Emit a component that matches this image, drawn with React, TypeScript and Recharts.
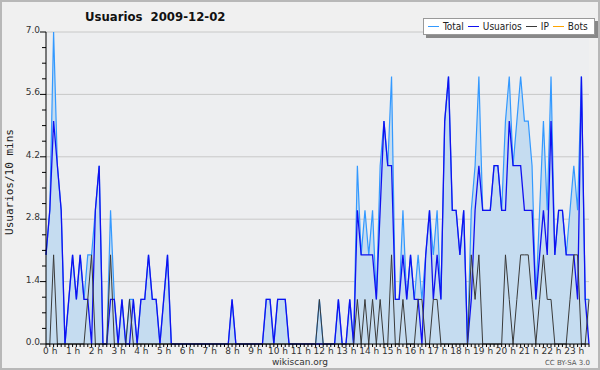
import React from "react";
import {
  ComposedChart,
  Area,
  Line,
  XAxis,
  YAxis,
  CartesianGrid,
} from "recharts";

// one value every 10 minutes, 2009-12-02 00:00 .. 23:50
const usuarios = [
  2, 3, 5, 4, 3, 0, 1, 2, 1, 2, 1, 1,
  0, 3, 4, 0, 0, 1, 1, 0, 1, 0, 0, 1,
  0, 1, 1, 2, 1, 1, 0, 1, 2, 0, 0, 0,
  0, 0, 0, 0, 0, 0, 0, 0, 0, 0, 0, 0,
  0, 1, 0, 0, 0, 0, 0, 0, 0, 0, 1, 1,
  0, 1, 1, 1, 0, 0, 0, 0, 0, 0, 0, 0,
  0, 0, 0, 0, 0, 1, 0, 0, 1, 0, 3, 2,
  2, 2, 2, 1, 3, 5, 4, 4, 1, 1, 2, 1,
  2, 1, 1, 0, 2, 3, 1, 2, 1, 5, 6, 3,
  3, 2, 3, 0, 1, 3, 4, 3, 3, 3, 4, 4,
  3, 3, 5, 4, 4, 4, 3, 3, 3, 1, 2, 3,
  2, 5, 2, 3, 3, 2, 2, 2, 1, 6, 1, 0,
];

const ip = [
  0, 0, 2, 0, 0, 0, 0, 0, 0, 0, 0, 1,
  2, 0, 0, 0, 0, 2, 0, 0, 0, 0, 1, 0,
  0, 0, 0, 0, 0, 0, 0, 0, 0, 0, 0, 0,
  0, 0, 0, 0, 0, 0, 0, 0, 0, 0, 0, 0,
  0, 0, 0, 0, 0, 0, 0, 0, 0, 0, 0, 0,
  0, 0, 0, 0, 0, 0, 0, 0, 0, 0, 0, 0,
  1, 0, 0, 0, 0, 0, 0, 0, 0, 0, 1, 0,
  1, 0, 1, 0, 1, 0, 0, 2, 0, 0, 1, 0,
  0, 0, 1, 1, 0, 0, 1, 1, 0, 0, 0, 0,
  0, 0, 0, 0, 2, 1, 2, 0, 0, 0, 0, 0,
  0, 2, 1, 0, 1, 2, 2, 2, 1, 0, 1, 2,
  1, 1, 0, 0, 0, 0, 1, 2, 2, 0, 0, 1,
];

const total = [
  2, 3, 7, 4, 3, 0, 1, 2, 1, 2, 1, 2,
  2, 3, 4, 0, 0, 3, 1, 0, 1, 0, 1, 1,
  0, 1, 1, 2, 1, 1, 0, 1, 2, 0, 0, 0,
  0, 0, 0, 0, 0, 0, 0, 0, 0, 0, 0, 0,
  0, 1, 0, 0, 0, 0, 0, 0, 0, 0, 1, 1,
  0, 1, 1, 1, 0, 0, 0, 0, 0, 0, 0, 0,
  1, 0, 0, 0, 0, 1, 0, 0, 1, 0, 4, 2,
  3, 2, 3, 1, 4, 5, 4, 6, 1, 1, 3, 1,
  2, 1, 2, 1, 2, 3, 2, 3, 1, 5, 6, 3,
  3, 2, 3, 0, 3, 4, 6, 3, 3, 3, 4, 4,
  3, 5, 6, 4, 5, 6, 5, 5, 4, 1, 3, 5,
  3, 6, 2, 3, 3, 2, 3, 4, 3, 6, 1, 1,
];

const bots = [
  0, 0, 0, 0, 0, 0, 0, 0, 0, 0, 0, 0,
  0, 0, 0, 0, 0, 0, 0, 0, 0, 0, 0, 0,
  0, 0, 0, 0, 0, 0, 0, 0, 0, 0, 0, 0,
  0, 0, 0, 0, 0, 0, 0, 0, 0, 0, 0, 0,
  0, 0, 0, 0, 0, 0, 0, 0, 0, 0, 0, 0,
  0, 0, 0, 0, 0, 0, 0, 0, 0, 0, 0, 0,
  0, 0, 0, 0, 0, 0, 0, 0, 0, 0, 0, 0,
  0, 0, 0, 0, 0, 0, 0, 0, 0, 0, 0, 0,
  0, 0, 0, 0, 0, 0, 0, 0, 0, 0, 0, 0,
  0, 0, 0, 0, 0, 0, 0, 0, 0, 0, 0, 0,
  0, 0, 0, 0, 0, 0, 0, 0, 0, 0, 0, 0,
  0, 0, 0, 0, 0, 0, 0, 0, 0, 0, 0, 0,
];

const hourLabels = [
  "0 h", "1 h", "2 h", "3 h", "4 h", "5 h", "6 h", "7 h",
  "8 h", "9 h", "10 h", "11 h", "12 h", "13 h", "14 h", "15 h",
  "16 h", "17 h", "18 h", "19 h", "20 h", "21 h", "22 h", "23 h",
];

const yLabels = [0, 1.4, 2.8, 4.2, 5.6, 7.0];

const legendItems = [
  { name: "Total", color: "#3399ff" },
  { name: "Usuarios", color: "#1010f0" },
  { name: "IP", color: "#3a3a3a" },
  { name: "Bots", color: "#ffa500" },
];

const data = total.map((t, i) => ({
  slot: i,
  total: t,
  usuarios: usuarios[i],
  ip: ip[i],
  bots: bots[i],
}));

// a small tick every 10 minutes, a label every hour
const xTicks = data.map((d) => d.slot);
// minor ticks every 0.35 on the value axis
const yTicks: number[] = [];
for (let k = 0; k <= 20; k++) yTicks.push(Math.round(k * 35) / 100);

const FONT = "'DejaVu Sans', sans-serif";
const COND = "'DejaVu Sans Condensed', 'DejaVu Sans', sans-serif";

const XTick = (props: any) => {
  const { x, y, payload } = props;
  const i = payload.value;
  const label = i % 6 === 0 ? hourLabels[i / 6] : null;
  const digits = label ? label.length - 2 : 0;
  return (
    <g>
      <line x1={x} x2={x} y1={y} y2={y + 3} stroke="#000" />
      {label && (
        <text
          x={x - digits * 2.9}
          y={y + 10}
          fontSize={9}
          fontFamily={FONT}
          fill="#333"
          style={{ whiteSpace: "pre" }}
        >
          {label}
        </text>
      )}
    </g>
  );
};

const YTick = (props: any) => {
  const { x, y, payload } = props;
  const v = payload.value;
  const major = yLabels.some((t) => Math.abs(t - v) < 1e-6);
  return (
    <g>
      <line x1={x - (major ? 6 : 4)} x2={x} y1={y} y2={y} stroke="#000" />
      {major && (
        <text
          x={x - 6}
          y={y + 1}
          textAnchor="end"
          fontSize={9}
          fontFamily={FONT}
          fill="#333"
        >
          {v.toFixed(1)}
        </text>
      )}
    </g>
  );
};

export default function App() {
  return (
    <div
      style={{
        position: "fixed",
        left: 0,
        top: 0,
        width: 600,
        height: 370,
        background: "#f0f0f0",
        overflow: "hidden",
      }}
    >
      <ComposedChart
        width={600}
        height={370}
        data={data}
        margin={{ top: 32, right: 11, bottom: 0, left: 0 }}
      >
        <CartesianGrid
          vertical={false}
          horizontalValues={yLabels}
          stroke="#c8c8c8"
          fill="#edeef0"
        />
        <XAxis
          dataKey="slot"
          type="number"
          domain={[0, 143]}
          ticks={xTicks}
          interval={0}
          height={26}
          tickSize={0}
          tickMargin={0}
          tickLine={false}
          tick={<XTick />}
          axisLine={{ stroke: "#000" }}
        />
        <YAxis
          type="number"
          domain={[0, 7]}
          ticks={yTicks}
          interval={0}
          width={46}
          tickSize={0}
          tickMargin={0}
          tickLine={false}
          tick={<YTick />}
          axisLine={{ stroke: "#000" }}
        />
        <Area
          type="linear"
          dataKey="total"
          name="Total"
          stroke={legendItems[0].color}
          strokeWidth={1.2}
          fill="#c5dcf0"
          fillOpacity={1}
          dot={false}
          activeDot={false}
          isAnimationActive={false}
        />
        <Line
          type="linear"
          dataKey="usuarios"
          name="Usuarios"
          stroke={legendItems[1].color}
          strokeWidth={1.3}
          dot={false}
          activeDot={false}
          isAnimationActive={false}
        />
        <Line
          type="linear"
          dataKey="ip"
          name="IP"
          stroke={legendItems[2].color}
          strokeWidth={1}
          dot={false}
          activeDot={false}
          isAnimationActive={false}
        />
        <Line
          type="linear"
          dataKey="bots"
          name="Bots"
          stroke={legendItems[3].color}
          strokeWidth={1}
          strokeOpacity={0}
          dot={false}
          activeDot={false}
          isAnimationActive={false}
        />
      </ComposedChart>
      <div
        style={{
          position: "absolute",
          left: 423,
          top: 18,
          display: "flex",
          alignItems: "center",
          background: "#fff",
          border: "1px solid #999",
          boxShadow: "3px 3px 0 #888",
          padding: "0 2px 0 4px",
          height: 15,
          fontFamily: COND,
          fontSize: 10,
          color: "#222",
          whiteSpace: "nowrap",
        }}
      >
        {legendItems.map((it) => (
          <span
            key={it.name}
            style={{ display: "flex", alignItems: "center", marginRight: 4 }}
          >
            <span
              style={{
                display: "inline-block",
                width: 11,
                height: 0,
                borderTop: `1.5px solid ${it.color}`,
                marginRight: 4,
              }}
            />
            {it.name}
          </span>
        ))}
      </div>
      <svg
        width={600}
        height={370}
        style={{ position: "absolute", left: 0, top: 0, pointerEvents: "none" }}
      >
        <text
          x={85}
          y={21}
          fontSize={13}
          fontWeight="bold"
          fontFamily={COND}
          fill="#111"
          style={{ whiteSpace: "pre" }}
        >
          {"Usuarios  2009-12-02"}
        </text>
        <text
          x={0}
          y={0}
          transform="translate(13,182) rotate(-90)"
          textAnchor="middle"
          fontSize={11}
          fontFamily="'DejaVu Sans Mono', monospace"
          fill="#222"
        >
          Usuarios/10 mins
        </text>
        <text x={300} y={365} textAnchor="middle" fontSize={9} fontFamily={FONT} fill="#333">
          wikiscan.org
        </text>
        <text x={590} y={365} textAnchor="end" fontSize={7} fontFamily={FONT} fill="#555">
          CC BY-SA 3.0
        </text>
      </svg>
      <div
        style={{
          position: "absolute",
          inset: 0,
          border: "2px solid #b8b8b8",
          pointerEvents: "none",
        }}
      />
    </div>
  );
}
